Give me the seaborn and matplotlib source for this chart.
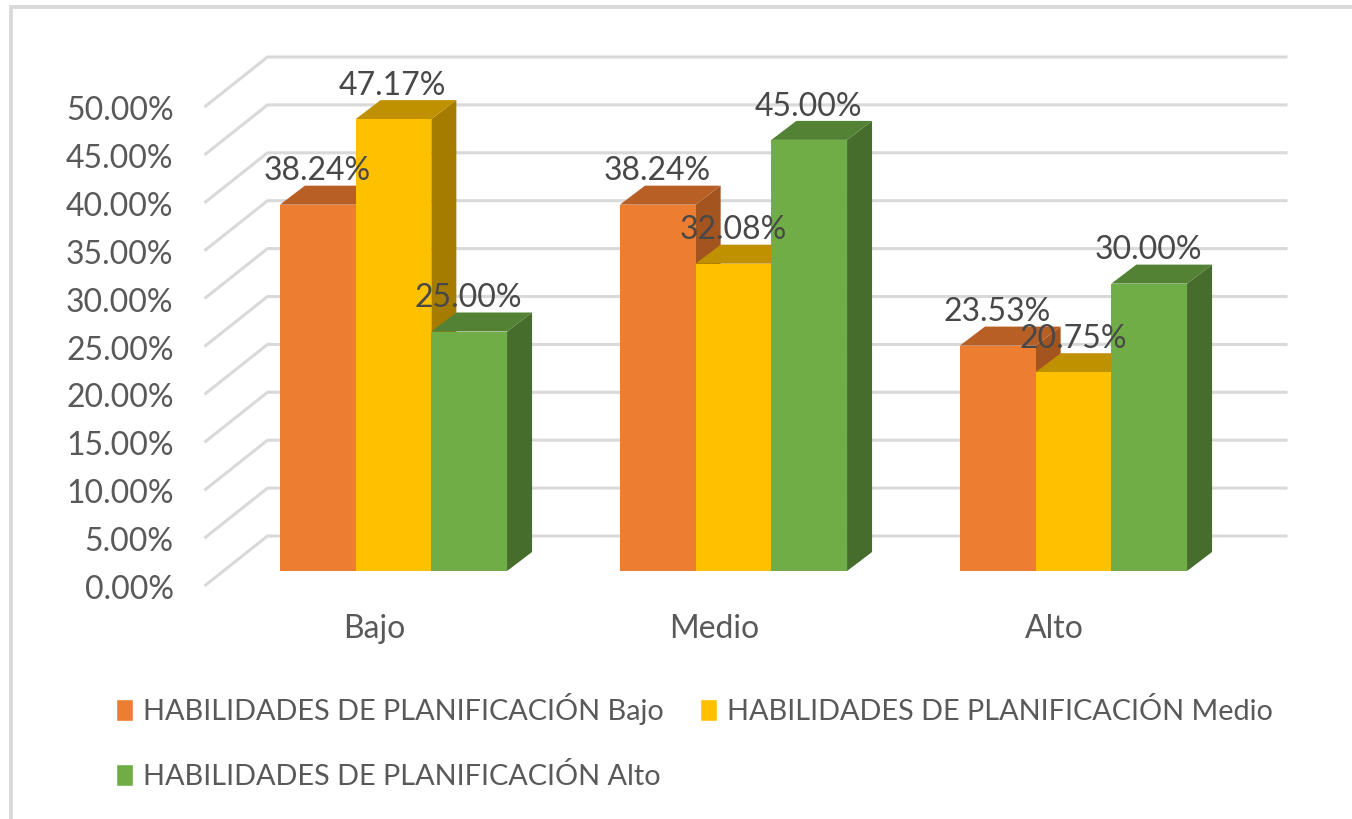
import pandas as pd
import seaborn as sns
import matplotlib.pyplot as plt
from matplotlib.patches import Polygon, Rectangle
from matplotlib.transforms import ScaledTranslation

niveles = ['Bajo', 'Medio', 'Alto']
serie_bajo = [38.24, 38.24, 23.53]
serie_medio = [47.17, 32.08, 20.75]
serie_alto = [25.00, 45.00, 30.00]
nombres = ['HABILIDADES DE PLANIFICACIÓN Bajo',
           'HABILIDADES DE PLANIFICACIÓN Medio',
           'HABILIDADES DE PLANIFICACIÓN Alto']
colores = ['#ED7D31', '#FFC000', '#70AD47']
techos = ['#B85F25', '#BF9000', '#548235']
lados = ['#A4541F', '#A67C00', '#466D2C']
ticks_y = [0, 5, 10, 15, 20, 25, 30, 35, 40, 45, 50]

df = pd.DataFrame({
    'nivel': niveles * 3,
    'serie': [n for n in nombres for _ in niveles],
    'valor': serie_bajo + serie_medio + serie_alto,
})

W, H = 1352, 819
sns.set_theme(style='white')
plt.rcParams['font.family'] = ['Lato', 'DejaVu Sans']
fig = plt.figure(figsize=(W / 100, H / 100), dpi=100)

# plot area in pixels: y=0 at 571, 50% at 92, categories 340 px apart
ax = fig.add_axes([223.5 / W, 1 - 571 / H, 1020 / W, 479 / H])
sns.barplot(data=df, x='nivel', y='valor', hue='serie', order=niveles, hue_order=nombres,
            palette=colores, saturation=1, width=0.668, gap=0, ax=ax)
ax.set_xlim(-0.5, 2.5)
ax.set_ylim(0, 50)
sns.despine(ax=ax, left=True, bottom=True)
ax.set_xlabel('')
ax.set_ylabel('')
ax.patch.set_alpha(0)

# pixel -> data unit helpers for the fake depth
px_x = 3 / 1020
px_y = 50 / 479

# back wall grid with the diagonal going to the front
for v in ticks_y:
    ax.plot([-0.5 - 19 * px_x, -0.5 + 44 * px_x, 2.5 + 44 * px_x],
            [v - 15 * px_y, v + 35 * px_y, v + 35 * px_y],
            color='#D9D9D9', lw=2.2, zorder=1, clip_on=False, solid_capstyle='butt')

# bars: painted left to right so each one covers the side of the previous
dx, dy = 25 * px_x, 19 * px_y
bars = [b for b in ax.patches if b.get_height() > 0]
for j, serie in enumerate(nombres):
    for i in range(len(niveles)):
        b = bars[j * len(niveles) + i]
        x0, x1, h = b.get_x(), b.get_x() + b.get_width(), b.get_height()
        b.set_zorder(4 + 3 * j)
        b.set_linewidth(0)
        ax.add_patch(Polygon([(x1, 0), (x1 + dx, dy), (x1 + dx, h + dy), (x1, h)],
                             facecolor=lados[j], lw=0, zorder=2 + 3 * j, clip_on=False))
        ax.add_patch(Polygon([(x0, h), (x0 + dx, h + dy), (x1 + dx, h + dy), (x1, h)],
                             facecolor=techos[j], lw=0, zorder=3 + 3 * j, clip_on=False))
        ax.annotate(f'{h:.2f}%', ((x0 + x1) / 2, h), xytext=(-0.5, 24), textcoords='offset points',
                    ha='center', va='center', fontsize=23, color='#484848',
                    zorder=30, annotation_clip=False)

# axis labels, shifted to sit on the front edge of the floor
ax.set_yticks(ticks_y)
ax.set_yticklabels([f'{v:.2f}%' for v in ticks_y], fontsize=23, color='#595959')
ax.tick_params(axis='y', length=0, pad=36)
ax.tick_params(axis='x', length=0, pad=31, labelsize=23, labelcolor='#595959')
bajar = ScaledTranslation(0, -16 / 100, fig.dpi_scale_trans)
for lab in ax.get_yticklabels():
    lab.set_transform(lab.get_transform() + bajar)
izquierda = ScaledTranslation(-19 / 100, 0, fig.dpi_scale_trans)
for lab in ax.get_xticklabels():
    lab.set_transform(lab.get_transform() + izquierda)

# legend goes row by row in the picture, matplotlib fills by column
handles, labels = ax.get_legend_handles_labels()
orden = [0, 2, 1]
ax.legend([handles[k] for k in orden], [labels[k] for k in orden], ncol=2, frameon=False,
          loc='upper left', bbox_to_anchor=(116 / W, 1 - 693 / H), bbox_transform=fig.transFigure,
          fontsize=20.8, labelcolor='#595959', borderpad=0, borderaxespad=0,
          handlelength=0.58, handleheight=0.8, handletextpad=0.34, columnspacing=1.27, labelspacing=1.32)

# chart frame, open at the bottom and on the right
fig.add_artist(Rectangle((11 / W, -0.1), 1.2, 1.1 - 7 / H, transform=fig.transFigure,
                         facecolor='none', edgecolor='#D9D9D9', lw=2.8))

fig.savefig('out.png', dpi=100)
